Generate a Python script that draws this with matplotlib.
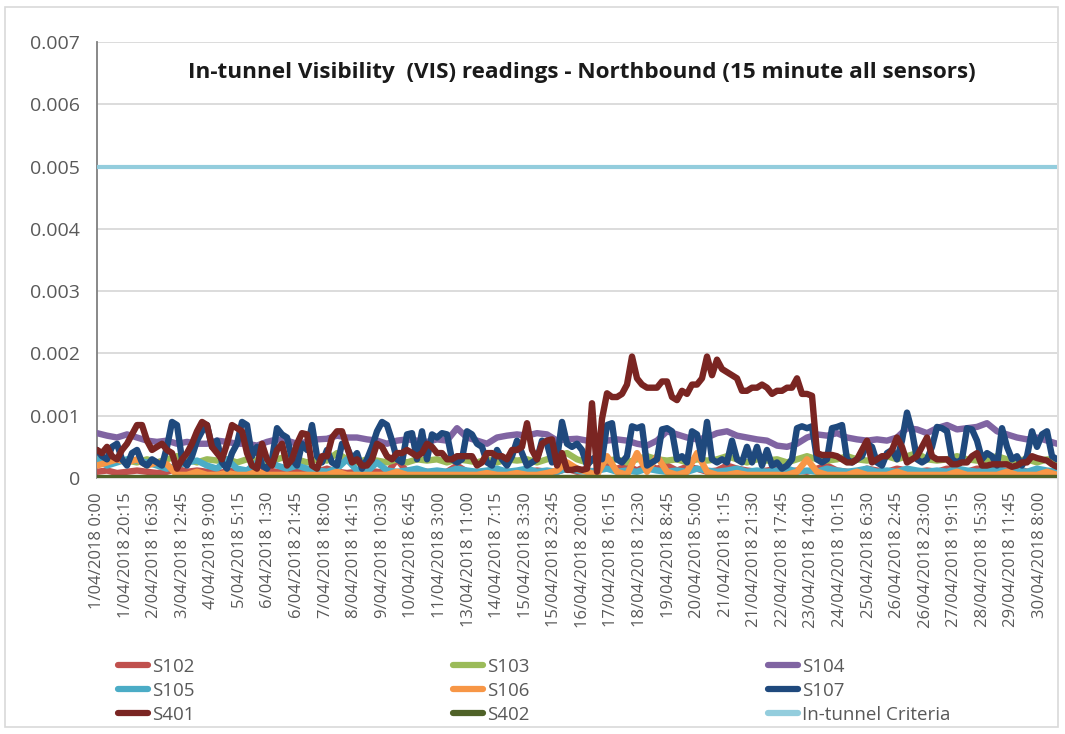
import numpy as np
import matplotlib
matplotlib.use("Agg")
import matplotlib.pyplot as plt
from matplotlib.ticker import FuncFormatter, MultipleLocator
from matplotlib.lines import Line2D
from matplotlib.patches import Rectangle

# ---------------- data (values in units of 0.001) ----------------
n_samples = 2722          # 15-minute samples on the category axis
tick_step = 81            # one label every 81 categories
tick_labels = [
    "1/04/2018 0:00", "1/04/2018 20:15", "2/04/2018 16:30", "3/04/2018 12:45",
    "4/04/2018 9:00", "5/04/2018 5:15", "6/04/2018 1:30", "6/04/2018 21:45",
    "7/04/2018 18:00", "8/04/2018 14:15", "9/04/2018 10:30", "10/04/2018 6:45",
    "11/04/2018 3:00", "13/04/2018 11:00", "14/04/2018 7:15", "15/04/2018 3:30",
    "15/04/2018 23:45", "16/04/2018 20:00", "17/04/2018 16:15", "18/04/2018 12:30",
    "19/04/2018 8:45", "20/04/2018 5:00", "21/04/2018 1:15", "21/04/2018 21:30",
    "22/04/2018 17:45", "23/04/2018 14:00", "24/04/2018 10:15", "25/04/2018 6:30",
    "26/04/2018 2:45", "26/04/2018 23:00", "27/04/2018 19:15", "28/04/2018 15:30",
    "29/04/2018 11:45", "30/04/2018 8:00",
]

s102 = [0.1, 0.12, 0.08, 0.1, 0.12, 0.1, 0.08, 0.1, 0.15, 0.1,
        0.12, 0.1, 0.08, 0.1, 0.12, 0.1, 0.25, 0.12, 0.1, 0.08,
        0.1, 0.12, 0.1, 0.15, 0.1, 0.08, 0.1, 0.12, 0.1, 0.08,
        0.3, 0.1, 0.12, 0.1, 0.08, 0.1, 0.2, 0.1, 0.08, 0.1,
        0.12, 0.1, 0.08, 0.1, 0.12, 0.1, 0.1, 0.15, 0.1, 0.12,
        0.1, 0.2, 0.15, 0.2, 0.12, 0.2, 0.15, 0.2, 0.12, 0.18,
        0.15, 0.1, 0.12, 0.2, 0.15, 0.12, 0.1, 0.12, 0.15, 0.1,
        0.12, 0.1, 0.15, 0.2, 0.12, 0.1, 0.08, 0.15, 0.12, 0.1,
        0.15, 0.12, 0.1, 0.12, 0.1, 0.15, 0.12, 0.1, 0.15, 0.12,
        0.1, 0.12, 0.15, 0.1, 0.12, 0.1, 0.12]

s103 = [0.3, 0.25, 0.3, 0.28, 0.25, 0.3, 0.25, 0.3, 0.35, 0.3,
        0.25, 0.3, 0.28, 0.3, 0.25, 0.3, 0.28, 0.25, 0.3, 0.35,
        0.3, 0.25, 0.3, 0.28, 0.4, 0.3, 0.25, 0.3, 0.28, 0.25,
        0.3, 0.25, 0.3, 0.28, 0.3, 0.25, 0.3, 0.28, 0.25, 0.3,
        0.25, 0.3, 0.28, 0.3, 0.25, 0.3, 0.35, 0.4, 0.3, 0.25,
        0.3, 0.28, 0.3, 0.25, 0.3, 0.35, 0.3, 0.28, 0.3, 0.25,
        0.3, 0.28, 0.3, 0.35, 0.3, 0.25, 0.3, 0.28, 0.3, 0.25,
        0.3, 0.35, 0.3, 0.28, 0.3, 0.35, 0.3, 0.28, 0.3, 0.35,
        0.3, 0.35, 0.4, 0.3, 0.28, 0.3, 0.35, 0.3, 0.28, 0.3,
        0.35, 0.3, 0.28, 0.3, 0.25, 0.3, 0.28]

s104 = [0.72, 0.68, 0.65, 0.7, 0.65, 0.6, 0.58, 0.6, 0.55, 0.58,
        0.55, 0.55, 0.6, 0.58, 0.55, 0.55, 0.52, 0.58, 0.62, 0.6,
        0.55, 0.58, 0.62, 0.63, 0.68, 0.65, 0.65, 0.62, 0.6, 0.55,
        0.6, 0.62, 0.6, 0.58, 0.62, 0.6, 0.8, 0.65, 0.6, 0.55,
        0.65, 0.68, 0.7, 0.68, 0.72, 0.7, 0.6, 0.62, 0.63, 0.6,
        0.55, 0.6, 0.62, 0.6, 0.55, 0.52, 0.6, 0.75, 0.7, 0.65,
        0.62, 0.65, 0.72, 0.75, 0.68, 0.65, 0.62, 0.6, 0.52, 0.5,
        0.55, 0.65, 0.7, 0.68, 0.72, 0.65, 0.62, 0.6, 0.62, 0.6,
        0.65, 0.8, 0.78, 0.72, 0.8, 0.85, 0.78, 0.8, 0.82, 0.88,
        0.75, 0.7, 0.65, 0.62, 0.65, 0.6, 0.55]

s105 = [0.3, 0.2, 0.25, 0.3, 0.28, 0.25, 0.2, 0.15, 0.2, 0.25,
        0.28, 0.2, 0.15, 0.3, 0.15, 0.12, 0.25, 0.3, 0.2, 0.15,
        0.2, 0.15, 0.12, 0.1, 0.15, 0.3, 0.12, 0.1, 0.25, 0.12,
        0.1, 0.12, 0.15, 0.1, 0.12, 0.1, 0.15, 0.12, 0.1, 0.12,
        0.15, 0.1, 0.12, 0.15, 0.1, 0.12, 0.1, 0.15, 0.12, 0.1,
        0.12, 0.15, 0.1, 0.12, 0.1, 0.15, 0.12, 0.1, 0.12, 0.1,
        0.15, 0.12, 0.1, 0.12, 0.15, 0.1, 0.12, 0.1, 0.12, 0.15,
        0.1, 0.12, 0.1, 0.15, 0.12, 0.1, 0.12, 0.15, 0.1, 0.12,
        0.1, 0.15, 0.12, 0.1, 0.12, 0.1, 0.15, 0.12, 0.1, 0.12,
        0.15, 0.1, 0.12, 0.1, 0.15, 0.12, 0.1]

s106 = [0.2, 0.25, 0.3, 0.25, 0.3, 0.2, 0.25, 0.22, 0.05, 0.05,
        0.1, 0.05, 0.05, 0.08, 0.05, 0.05, 0.1, 0.05, 0.05, 0.05,
        0.05, 0.05, 0.05, 0.05, 0.1, 0.05, 0.05, 0.05, 0.05, 0.05,
        0.1, 0.05, 0.05, 0.05, 0.05, 0.05, 0.05, 0.05, 0.05, 0.08,
        0.05, 0.05, 0.08, 0.05, 0.05, 0.08, 0.12, 0.25, 0.15, 0.1,
        0.05, 0.35, 0.1, 0.05, 0.4, 0.1, 0.35, 0.1, 0.05, 0.1,
        0.4, 0.1, 0.05, 0.05, 0.08, 0.05, 0.05, 0.05, 0.05, 0.05,
        0.1, 0.3, 0.1, 0.05, 0.05, 0.05, 0.1, 0.05, 0.05, 0.05,
        0.1, 0.05, 0.05, 0.05, 0.05, 0.05, 0.1, 0.05, 0.05, 0.05,
        0.05, 0.1, 0.05, 0.05, 0.05, 0.1, 0.05]

s107 = [0.45, 0.35, 0.3, 0.5, 0.55, 0.3, 0.2, 0.4, 0.45, 0.25,
        0.2, 0.3, 0.25, 0.2, 0.5, 0.9, 0.85, 0.3, 0.2, 0.35,
        0.6, 0.75, 0.85, 0.5, 0.6, 0.25, 0.15, 0.4, 0.55, 0.9,
        0.85, 0.35, 0.5, 0.2, 0.15, 0.3, 0.8, 0.7, 0.65, 0.3,
        0.2, 0.55, 0.45, 0.85, 0.35, 0.25, 0.45, 0.25, 0.2, 0.55,
        0.5, 0.3, 0.4, 0.15, 0.3, 0.5, 0.75, 0.9, 0.85, 0.6,
        0.3, 0.25, 0.7, 0.72, 0.3, 0.75, 0.3, 0.7, 0.65, 0.72,
        0.7, 0.3, 0.25, 0.3, 0.75, 0.7, 0.55, 0.5, 0.25, 0.2,
        0.45, 0.3, 0.2, 0.35, 0.6, 0.4, 0.2, 0.25, 0.3, 0.6,
        0.55, 0.25, 0.3, 0.9, 0.55, 0.5, 0.55, 0.45, 0.2, 0.3,
        0.35, 0.3, 0.85, 0.88, 0.3, 0.25, 0.35, 0.83, 0.8, 0.83,
        0.2, 0.25, 0.3, 0.78, 0.8, 0.75, 0.3, 0.35, 0.25, 0.75,
        0.7, 0.3, 0.9, 0.3, 0.25, 0.3, 0.25, 0.6, 0.3, 0.25,
        0.5, 0.25, 0.5, 0.2, 0.45, 0.2, 0.25, 0.15, 0.2, 0.3,
        0.8, 0.83, 0.8, 0.83, 0.3, 0.25, 0.3, 0.8, 0.82, 0.85,
        0.3, 0.25, 0.3, 0.35, 0.55, 0.5, 0.25, 0.2, 0.4, 0.45,
        0.3, 0.6, 1.05, 0.75, 0.3, 0.25, 0.3, 0.5, 0.82, 0.8,
        0.75, 0.3, 0.25, 0.3, 0.8, 0.78, 0.6, 0.3, 0.4, 0.35,
        0.2, 0.8, 0.5, 0.3, 0.35, 0.2, 0.35, 0.75, 0.5, 0.7,
        0.75, 0.35, 0.3]

s401 = [0.45, 0.4, 0.5, 0.35, 0.3, 0.45, 0.55, 0.7, 0.85, 0.85,
        0.6, 0.45, 0.5, 0.55, 0.45, 0.4, 0.15, 0.3, 0.4, 0.55,
        0.75, 0.9, 0.85, 0.5, 0.4, 0.3, 0.55, 0.85, 0.8, 0.75,
        0.4, 0.2, 0.15, 0.55, 0.3, 0.2, 0.45, 0.55, 0.2, 0.3,
        0.55, 0.72, 0.7, 0.2, 0.15, 0.35, 0.35, 0.65, 0.75, 0.75,
        0.5, 0.25, 0.3, 0.2, 0.2, 0.3, 0.55, 0.5, 0.35, 0.3,
        0.4, 0.4, 0.45, 0.4, 0.35, 0.4, 0.55, 0.5, 0.4, 0.4,
        0.3, 0.3, 0.35, 0.35, 0.35, 0.35, 0.2, 0.25, 0.4, 0.4,
        0.35, 0.35, 0.3, 0.45, 0.45, 0.5, 0.88, 0.45, 0.3, 0.55,
        0.6, 0.62, 0.2, 0.4, 0.13, 0.13, 0.15, 0.13, 0.15, 1.2,
        0.1, 0.95, 1.36, 1.3, 1.3, 1.35, 1.5, 1.95, 1.6, 1.5,
        1.45, 1.45, 1.45, 1.55, 1.55, 1.3, 1.25, 1.4, 1.35, 1.5,
        1.5, 1.6, 1.95, 1.65, 1.9, 1.75, 1.7, 1.65, 1.6, 1.4,
        1.4, 1.45, 1.45, 1.5, 1.45, 1.35, 1.4, 1.4, 1.45, 1.45,
        1.6, 1.35, 1.35, 1.32, 0.4, 0.37, 0.37, 0.37, 0.35, 0.3,
        0.25, 0.25, 0.3, 0.45, 0.6, 0.25, 0.3, 0.35, 0.35, 0.45,
        0.65, 0.5, 0.25, 0.3, 0.35, 0.5, 0.65, 0.35, 0.3, 0.3,
        0.3, 0.22, 0.22, 0.25, 0.25, 0.35, 0.4, 0.2, 0.2, 0.22,
        0.22, 0.22, 0.22, 0.18, 0.2, 0.25, 0.25, 0.35, 0.32, 0.3,
        0.28, 0.22, 0.18]

s402 = [0.0, 0.0, 0.0, 0.0, 0.0, 0.0, 0.0, 0.0, 0.0, 0.0]
criteria = [5.0, 5.0]

series_names = ["S102", "S103", "S104", "S105", "S106", "S107", "S401", "S402",
                "In-tunnel Criteria"]
series_values = [s102, s103, s104, s105, s106, s107, s401, s402, criteria]
series_colors = ["#C0504D", "#9BBB59", "#8064A2", "#4BACC6", "#F79646",
                 "#1F497D", "#7A2522", "#4F6228", "#93CDDD"]

# ---------------- figure ----------------
W, H = 1065, 734
fig = plt.figure(figsize=(W / 100, H / 100), dpi=100)
fig.patch.set_facecolor("white")
fig.patches.append(Rectangle((5 / W, 7 / H), 1053 / W, 720 / H, transform=fig.transFigure,
                             fill=False, edgecolor="#D9D9D9", linewidth=1.2))

ax = fig.add_axes([97 / W, 1 - 478 / H, 960 / W, (478 - 42) / H])

for name, vals, col in zip(series_names, series_values, series_colors):
    v = np.asarray(vals) * 1e-3
    x = np.linspace(0, n_samples - 1, len(v))
    lw = 3.0 if name == "In-tunnel Criteria" else 4.6
    ax.plot(x, v, color=col, lw=lw, solid_joinstyle="round", solid_capstyle="round",
            label=name, zorder=3)

ax.set_xlim(0, n_samples - 1)
ax.set_ylim(0, 0.007)
ax.yaxis.set_major_locator(MultipleLocator(0.001))
ax.yaxis.set_major_formatter(FuncFormatter(lambda v, p: "0" if abs(v) < 1e-12 else f"{v:.3f}"))
ax.grid(axis="y", color="#D9D9D9", lw=1.3, zorder=0)
ax.set_axisbelow(True)

ticks = np.arange(len(tick_labels)) * tick_step
ax.set_xticks(ticks)
ax.set_xticklabels(tick_labels, rotation=90, fontsize=12, color="#595959",
                   family=["Open Sans", "DejaVu Sans"])
ax.tick_params(axis="x", length=0, pad=10)
ax.tick_params(axis="y", length=0, pad=12, labelsize=14, labelcolor="#595959")
for lab in ax.get_yticklabels():
    lab.set_family(["Open Sans", "DejaVu Sans"])

for s in ["top", "right"]:
    ax.spines[s].set_visible(False)
ax.spines["left"].set_color("#7F7F7F")
ax.spines["left"].set_linewidth(1.3)
ax.spines["bottom"].set_color("#D9D9D9")

ax.text(0.505, 0.93, "In-tunnel Visibility  (VIS) readings - Northbound (15 minute all sensors)",
        transform=ax.transAxes, ha="center", va="center", fontsize=16.2, fontweight="bold",
        color="#1a1a1a", family=["Open Sans", "DejaVu Sans"])

# legend: three columns, each with three rows
handles = [Line2D([0], [0], color=c, lw=4.5, solid_capstyle="round") for c in series_colors]
col_x = [118, 453, 768]
for ci, x0 in enumerate(col_x):
    idx = [ci, ci + 3, ci + 6]
    leg = fig.legend([handles[i] for i in idx], [series_names[i] for i in idx],
                     ncol=1, loc="upper left", bbox_to_anchor=(x0 / W, 1 - 658 / H),
                     frameon=False, handlelength=1.6, handletextpad=0.2,
                     labelspacing=0.32, borderaxespad=0, borderpad=0,
                     prop={"family": ["Open Sans", "DejaVu Sans"], "size": 13.5})
    for t in leg.get_texts():
        t.set_color("#595959")

fig.savefig("out.png", dpi=100, facecolor="white")
